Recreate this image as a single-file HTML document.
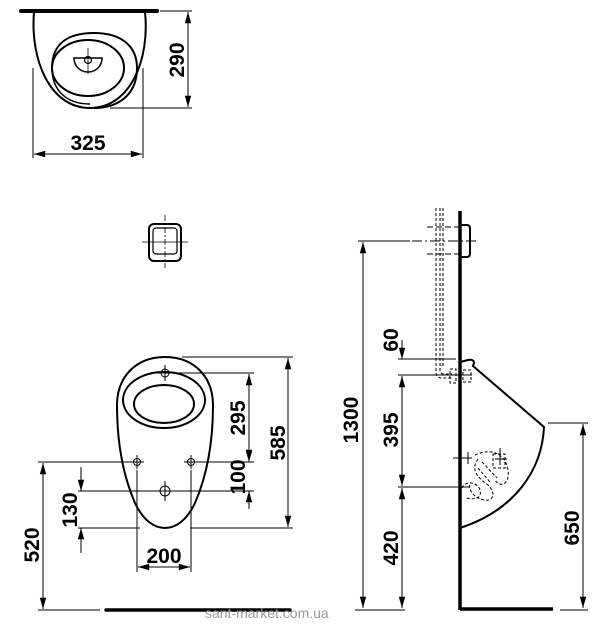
<!DOCTYPE html>
<html><head><meta charset="utf-8"><style>
html,body{margin:0;padding:0;background:#fff;}
svg{display:block}
text{font-family:"Liberation Sans Narrow","Liberation Sans",sans-serif;font-weight:bold;font-size:21px;fill:#000}
</style></head><body>
<svg width="600" height="626" viewBox="0 0 600 626" xmlns="http://www.w3.org/2000/svg">
<defs>
<marker id="a" viewBox="0 0 14 10" refX="14" refY="5" markerWidth="13" markerHeight="8" orient="auto-start-reverse" markerUnits="userSpaceOnUse"><path d="M0,1 L14,5 L0,9 Z" fill="#000"/></marker>
</defs>
<g fill="none" stroke="#000">
<!-- top view -->
<line x1="21" y1="11" x2="157" y2="11" stroke-width="4" stroke-linecap="round"/>
<path d="M34,12 C30,60 50,108 90,108 C130,108 150,60 145,12" stroke-width="2"/>
<path d="M52,68 C52,42 70,33 94,33 C120,33 137,45 137,68 C137,95 118,108 94,108" stroke-width="2"/>
<ellipse cx="88" cy="68" rx="36" ry="28" stroke-width="2"/>
<path d="M52,68 C52,90 66,104 90,104" stroke-width="1.5"/>
<path d="M74,58 L102,58 C102,66 96,72 88,72 C80,72 74,66 74,58 Z" stroke-width="1.5"/>
<circle cx="88" cy="60" r="3.5" stroke-width="1.2"/>
<line x1="88" y1="48" x2="88" y2="74" stroke-width="0.8"/>
<line x1="160" y1="11" x2="192" y2="11" stroke-width="1"/>
<line x1="110" y1="108" x2="192" y2="108" stroke-width="1"/>
<line x1="188" y1="12" x2="188" y2="107" stroke-width="1" marker-start="url(#a)" marker-end="url(#a)"/>
<line x1="33" y1="68" x2="33" y2="158" stroke-width="1"/>
<line x1="143" y1="68" x2="143" y2="158" stroke-width="1"/>
<line x1="34" y1="154" x2="142" y2="154" stroke-width="1" marker-start="url(#a)" marker-end="url(#a)"/>
<!-- small square -->
<rect x="149" y="224" width="32" height="37" rx="5" stroke-width="2"/>
<rect x="153" y="228" width="24" height="26" rx="3" stroke-width="1.2"/>
<line x1="142" y1="242" x2="188" y2="242" stroke-width="0.8"/>
<line x1="165" y1="215" x2="165" y2="268" stroke-width="0.8" stroke-dasharray="6,2,2,2"/>
<!-- front view -->
<path d="M165,357 C195,357 213,378 213,405 C213,450 205,480 195,503 C187,520 176,528 165,528 C154,528 143,520 135,503 C125,480 117,450 117,405 C117,378 135,357 165,357 Z" stroke-width="2"/>
<ellipse cx="164" cy="400" rx="41" ry="28" stroke-width="2"/>
<ellipse cx="164" cy="404" rx="30" ry="19" stroke-width="2"/>
<g stroke-width="1"><circle cx="165" cy="373" r="4"/><line x1="157" y1="373" x2="173" y2="373"/><line x1="165" y1="365" x2="165" y2="381"/>
<circle cx="137" cy="462" r="3.5"/><line x1="130" y1="462" x2="144" y2="462"/><line x1="137" y1="455" x2="137" y2="469"/>
<circle cx="191" cy="462" r="3.5"/><line x1="184" y1="462" x2="198" y2="462"/><line x1="191" y1="455" x2="191" y2="469"/>
<circle cx="165" cy="491" r="5"/><line x1="155" y1="491" x2="175" y2="491"/><line x1="165" y1="481" x2="165" y2="501"/></g>
<g stroke-width="1">
<line x1="182" y1="357" x2="293" y2="357"/>
<line x1="175" y1="373" x2="254" y2="373"/>
<line x1="38" y1="462" x2="132" y2="462"/><line x1="196" y1="462" x2="254" y2="462"/>
<line x1="78" y1="491" x2="155" y2="491"/><line x1="175" y1="491" x2="254" y2="491"/>
<line x1="78" y1="528" x2="140" y2="528"/><line x1="190" y1="528" x2="293" y2="528"/>
<line x1="38" y1="610" x2="100" y2="610"/>
<line x1="137" y1="470" x2="137" y2="572"/><line x1="191" y1="470" x2="191" y2="572"/>
</g>
<line x1="288" y1="358" x2="288" y2="527" stroke-width="1" marker-start="url(#a)" marker-end="url(#a)"/>
<line x1="249" y1="374" x2="249" y2="461" stroke-width="1" marker-start="url(#a)" marker-end="url(#a)"/>
<line x1="249" y1="491" x2="249" y2="509" stroke-width="1" marker-start="url(#a)"/>
<line x1="249" y1="462" x2="249" y2="444" stroke-width="1" marker-start="url(#a)"/>
<line x1="81" y1="491" x2="81" y2="467" stroke-width="1" marker-start="url(#a)"/>
<line x1="81" y1="528" x2="81" y2="553" stroke-width="1" marker-start="url(#a)"/>
<line x1="43" y1="463" x2="43" y2="609" stroke-width="1" marker-start="url(#a)" marker-end="url(#a)"/>
<line x1="138" y1="567" x2="190" y2="567" stroke-width="1" marker-start="url(#a)" marker-end="url(#a)"/>
<line x1="106" y1="610" x2="290" y2="610" stroke-width="3.5" stroke-linecap="round"/>
<!-- side view -->
<line x1="460" y1="211" x2="460" y2="610" stroke-width="3.5"/>
<line x1="460" y1="609" x2="553" y2="609" stroke-width="3.5"/>
<path d="M461,225 L467,225 Q470,225 470,229 L470,253 Q470,257 467,257 L461,257" stroke-width="2"/>
<line x1="412" y1="241" x2="477" y2="241" stroke-width="1" stroke-dasharray="10,3,2,3"/>
<line x1="427" y1="227" x2="459" y2="227" stroke-width="1" stroke-dasharray="6,3"/>
<line x1="427" y1="254" x2="459" y2="254" stroke-width="1" stroke-dasharray="6,3"/>
<g stroke-width="1" stroke-dasharray="3,2">
<path d="M436,208 L436,372 Q436,378 442,378 L452,378"/>
<path d="M440,208 L440,370 Q440,374 444,374 L452,374"/>
<path d="M443,208 L443,368"/>
<rect x="450" y="369" width="6" height="14"/>
<rect x="463" y="370" width="8" height="12"/>
</g>
<path d="M460,362 L468,360 Q474,359 474,363 L473,366 L544,427 C542,470 515,510 460,528" stroke-width="2"/>
<g stroke-width="1" stroke-dasharray="3,2">
<path d="M478,459 C470,470 478,478 488,485 C496,492 494,502 484,500 C474,498 468,490 470,484"/>
<path d="M475,455 C490,448 505,452 508,470 C510,485 500,488 495,480"/>
<path d="M462,488 C465,480 478,482 480,490 C482,498 476,500 466,498"/>
<path d="M478,468 L490,482 M482,462 L497,478"/>
<rect x="493" y="454" width="12" height="14"/>
</g>
<g stroke-width="1">
<line x1="453" y1="458" x2="472" y2="458"/><line x1="468" y1="452" x2="468" y2="464"/>
<line x1="500" y1="448" x2="500" y2="465"/><line x1="495" y1="459" x2="507" y2="459"/>
<line x1="398" y1="359" x2="456" y2="359"/>
<line x1="398" y1="375" x2="472" y2="375"/>
<line x1="398" y1="487" x2="470" y2="487"/>
<line x1="358" y1="241" x2="410" y2="241"/>
<line x1="548" y1="423" x2="588" y2="423"/>
<line x1="355" y1="610" x2="405" y2="610"/>
<line x1="560" y1="610" x2="588" y2="610"/>
</g>
<line x1="363" y1="242" x2="363" y2="608" stroke-width="1" marker-start="url(#a)" marker-end="url(#a)"/>
<line x1="402" y1="359" x2="402" y2="340" stroke-width="1" marker-start="url(#a)"/>
<line x1="402" y1="376" x2="402" y2="486" stroke-width="1" marker-start="url(#a)" marker-end="url(#a)"/>
<line x1="402" y1="488" x2="402" y2="608" stroke-width="1" marker-start="url(#a)" marker-end="url(#a)"/>
<line x1="583" y1="424" x2="583" y2="608" stroke-width="1" marker-start="url(#a)" marker-end="url(#a)"/>
</g>
<g text-anchor="middle">
<text x="88" y="150">325</text>
<text transform="translate(184,60) rotate(-90)">290</text>
<text transform="translate(285,443) rotate(-90)">585</text>
<text transform="translate(245,418) rotate(-90)">295</text>
<text transform="translate(245,477) rotate(-90)">100</text>
<text transform="translate(77,510) rotate(-90)">130</text>
<text transform="translate(39,545) rotate(-90)">520</text>
<text x="164" y="563">200</text>
<text transform="translate(358,420) rotate(-90)">1300</text>
<text transform="translate(398,340) rotate(-90)">60</text>
<text transform="translate(398,430) rotate(-90)">395</text>
<text transform="translate(398,548) rotate(-90)">420</text>
<text transform="translate(579,528) rotate(-90)">650</text>
</g>
<text x="205" y="618" style="font-family:'Liberation Sans',sans-serif;font-weight:normal;font-size:14px;fill:#9a9a9a">sant-market.com.ua</text>
</svg>
</body></html>
